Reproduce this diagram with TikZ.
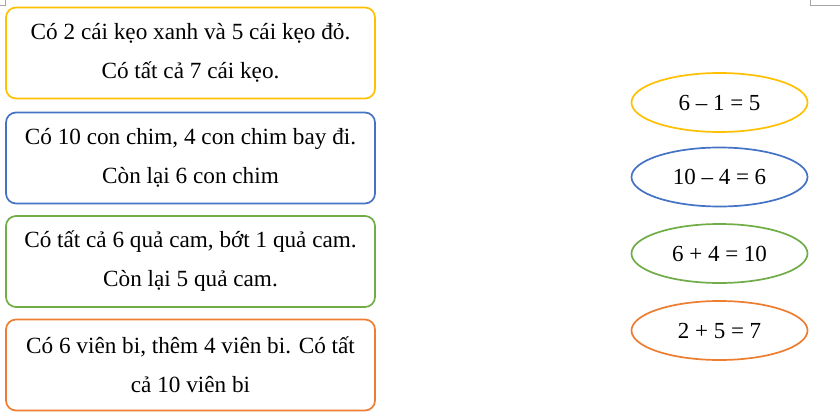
\documentclass[tikz,border=0pt]{standalone}
\usepackage{fontspec}
\setmainfont{Liberation Serif}
\usetikzlibrary{shapes.geometric}
\definecolor{cyel}{HTML}{FFC000}
\definecolor{cblu}{HTML}{4472C4}
\definecolor{cgrn}{HTML}{70AD47}
\definecolor{corg}{HTML}{ED7D31}
\tikzset{
  textbox/.style={draw, line width=1.7pt, rounded corners=10pt, minimum width=369pt, minimum height=91pt, align=center, inner sep=0pt, font=\fontsize{23.2}{39}\selectfont},
  eqbox/.style={draw, ellipse, line width=1.7pt, minimum width=176pt, minimum height=59pt, inner sep=0pt, font=\fontsize{23}{25}\selectfont},
  cropmark/.style={draw=gray!70, line width=0.8pt}
}
\begin{document}
\begin{tikzpicture}[x=1pt,y=-1pt]
\useasboundingbox (0,0) rectangle (840,417);
\fill[white] (0,0) rectangle (840,417);
\draw[cropmark] (0,5) -- (5,5) -- (5,0);
\draw[cropmark] (840,5) -- (810,5) -- (810,0);
\node[textbox, draw=cyel] (b1) at (190.5,53) {Có 2 cái kẹo xanh và 5 cái kẹo đỏ.\\Có tất cả 7 cái kẹo.};
\node[textbox, draw=cblu] (b2) at (190.5,158) {Có 10 con chim, 4 con chim bay đi.\\Còn lại 6 con chim};
\node[textbox, draw=cgrn] (b3) at (190.5,261.5) {Có tất cả 6 quả cam, bớt 1 quả cam.\\Còn lại 5 quả cam.};
\node[textbox, draw=corg] (b4) at (190.5,365) {Có 6 viên bi, thêm 4 viên bi. Có tất\\cả 10 viên bi};
\node[eqbox, draw=cyel] (e1) at (719.5,102.5) {6 – 1 = 5};
\node[eqbox, draw=cblu] (e2) at (719.5,177) {10 – 4 = 6};
\node[eqbox, draw=cgrn] (e3) at (719.5,253.5) {6 + 4 = 10};
\node[eqbox, draw=corg] (e4) at (719.5,330.5) {2 + 5 = 7};
\end{tikzpicture}
\end{document}
